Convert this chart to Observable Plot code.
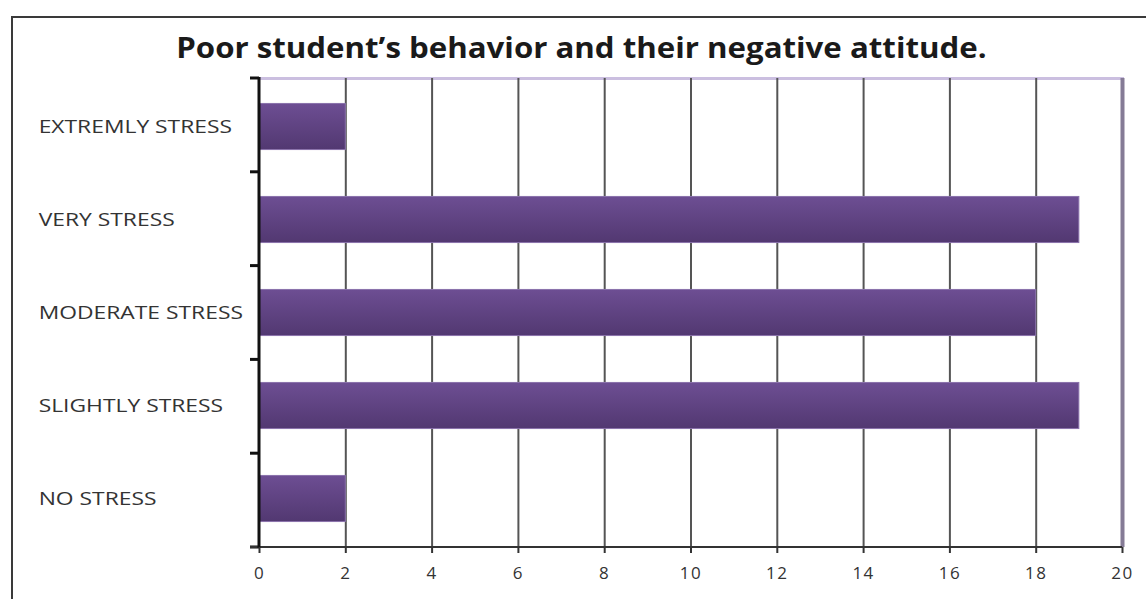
<!DOCTYPE html>
<html>
<head>
<meta charset="utf-8">
<script src="https://cdn.jsdelivr.net/npm/d3@7"></script>
<script src="https://cdn.jsdelivr.net/npm/@observablehq/plot@0.6"></script>
<style>
  html, body { margin: 0; padding: 0; background: #fff; overflow: hidden; }
  body { position: relative; width: 1146px; height: 599px; }
  #frame { position: absolute; left: 11px; top: 16px; width: 1200px; height: 700px;
           border: 2px solid #3a3a3a; box-sizing: border-box; }
  #title { position: absolute; left: 0; top: 28px; width: 1162px; text-align: center; }
  #title span { display: inline-block; transform: scaleX(1.115); transform-origin: 50% 50%;
           font-family: "Open Sans", sans-serif; font-weight: 700; font-size: 28px; color: #1a1a1a; }
  #chart { position: absolute; left: 0; top: 70px; }
  #chart g[aria-label="x-axis tick label"] text { letter-spacing: 1.5px; }
</style>
</head>
<body>
<div id="frame"></div>
<div id="title"><span>Poor student’s behavior and their negative attitude.</span></div>
<div id="chart"></div>
<script>
// Stress levels, top to bottom, and number of responses for each
const categories = ["EXTREMLY STRESS", "VERY STRESS", "MODERATE STRESS", "SLIGHTLY STRESS", "NO STRESS"];
const counts = [2, 19, 18, 19, 2];
const xTicks = [0, 2, 4, 6, 8, 10, 12, 14, 16, 18, 20];

const data = categories.map((category, i) => ({category, value: counts[i]}));

const W = 1146, H = 529, mL = 259, mR = 24, mT = 8, mB = 52;
const labelX = 38;
const band = (H - mT - mB) / categories.length;
const inset = band / 4;

// gradient fill for the bars
const defs = () => {
  const svg = d3.create("svg:defs");
  const g = svg.append("linearGradient").attr("id", "barGrad").attr("x1", 0).attr("y1", 0).attr("x2", 0).attr("y2", 1);
  g.append("stop").attr("offset", "0%").attr("stop-color", "#6d4e93");
  g.append("stop").attr("offset", "100%").attr("stop-color", "#523871");
  return svg.node();
};

// category-boundary ticks on the left axis and the baseline along the bottom
const axisFrame = (index, scales, values, dims) => {
  const g = d3.create("svg:g");
  const top = dims.marginTop, bottom = dims.height - dims.marginBottom;
  const n = categories.length;
  const step = (bottom - top) / n;
  for (let i = 0; i <= n; i++) {
    const y = top + i * step;
    g.append("line").attr("x1", dims.marginLeft - 9).attr("x2", dims.marginLeft)
      .attr("y1", y).attr("y2", y).attr("stroke", "#111").attr("stroke-width", 3);
  }
  g.append("line").attr("x1", dims.marginLeft - 9).attr("x2", dims.width - dims.marginRight)
    .attr("y1", bottom).attr("y2", bottom).attr("stroke", "#333").attr("stroke-width", 2);
  g.append("line").attr("x1", dims.marginLeft).attr("x2", dims.marginLeft)
    .attr("y1", top - 1).attr("y2", bottom + 1).attr("stroke", "#111").attr("stroke-width", 3);
  return g.node();
};

const chart = Plot.plot({
  width: W, height: H,
  marginLeft: mL, marginRight: mR, marginTop: mT, marginBottom: mB,
  style: {fontFamily: "Open Sans, sans-serif", background: "transparent"},
  x: {domain: [0, 20], ticks: xTicks, label: null},
  y: {domain: categories, padding: 0, axis: null},
  marks: [
    defs,
    Plot.frame({anchor: "top", stroke: "#cbbfe0", strokeWidth: 3}),
    Plot.ruleX(xTicks.slice(1, -1), {stroke: "#555", strokeWidth: 2}),
    Plot.ruleX([20], {stroke: "#857b96", strokeWidth: 4}),
    Plot.barX(data, {x: "value", y: "category", fill: "url(#barGrad)",
      stroke: "#8a72ac", strokeWidth: 1, insetTop: inset, insetBottom: inset}),
    axisFrame,
    Plot.axisX({ticks: xTicks, tickSize: 6, tickPadding: 13, fontSize: 17, fill: "#333",
      stroke: "#333", strokeWidth: 2, tickFormat: d => d, label: null}),
    Plot.text(categories, {y: d => d, frameAnchor: "left", dx: labelX - mL, textAnchor: "start",
      fontSize: 18, fill: "#333"})
  ]
});

// widen the category labels horizontally, anchored at their left edge
chart.querySelectorAll('g[aria-label="text"]').forEach(g => {
  const wrap = document.createElementNS("http://www.w3.org/2000/svg", "g");
  wrap.setAttribute("transform", `translate(${labelX},0) scale(1.27,1) translate(${-labelX},0)`);
  g.parentNode.insertBefore(wrap, g);
  wrap.appendChild(g);
});

document.getElementById("chart").append(chart);
</script>
</body>
</html>
